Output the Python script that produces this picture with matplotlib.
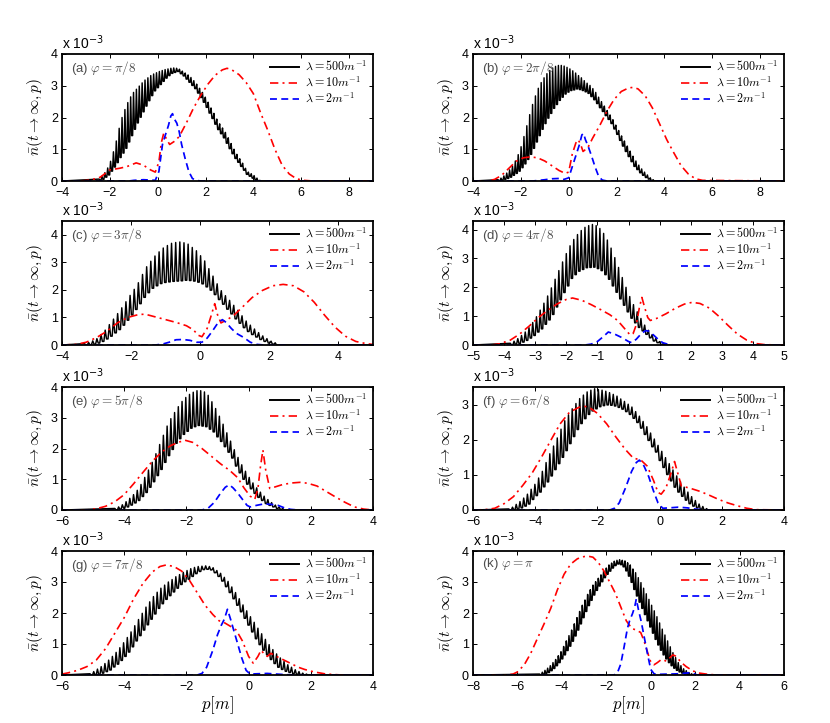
import numpy as np
import matplotlib
matplotlib.use('Agg')
import matplotlib.pyplot as plt

plt.rcParams['font.family'] = ['Liberation Sans', 'DejaVu Sans']
plt.rcParams['mathtext.fontset'] = 'cm'

# oscillation period (in p units) of the lambda = 500 m^-1 curve
T_osc = 0.12
series_labels = [r'$\lambda=500m^{-1}$', r'$\lambda=10m^{-1}$', r'$\lambda=2m^{-1}$']

# ---------------- panel (a) ----------------
a_label = r'(a) $\varphi=\pi/8$'
a_xlim = [-4, 9]; a_xticks = [-4, -2, 0, 2, 4, 6, 8]; a_ylim = [0, 4]; a_yticks = [0, 1, 2, 3, 4]
a_blk_p0 = -2.45
a_blk_top = [0.06, 0.15, 0.26, 0.41, 0.62, 0.92, 1.26, 1.66, 2.0, 2.25, 2.47, 2.65, 2.79, 2.89, 2.99, 3.09,
             3.18, 3.25, 3.32, 3.37, 3.41, 3.45, 3.48, 3.51, 3.53, 3.55, 3.56, 3.55, 3.52, 3.46, 3.40, 3.34,
             3.26, 3.16, 3.05, 2.92, 2.79, 2.64, 2.48, 2.30, 2.13, 1.95, 1.80, 1.67, 1.53, 1.36, 1.18, 1.0,
             0.84, 0.70, 0.56, 0.40, 0.28, 0.23, 0.17, 0.09, 0.02]
a_blk_bot = [0.03, 0.05, 0.12, 0.19, 0.31, 0.44, 0.58, 0.74, 0.88, 1.03, 1.23, 1.43, 1.63, 1.83, 2.01, 2.18,
             2.36, 2.53, 2.69, 2.84, 2.94, 3.04, 3.14, 3.24, 3.32, 3.39, 3.42, 3.45, 3.38, 3.31, 3.21, 3.11,
             3.01, 2.91, 2.77, 2.63, 2.48, 2.32, 2.14, 1.97, 1.79, 1.62, 1.49, 1.36, 1.19, 1.02, 0.86, 0.71,
             0.59, 0.46, 0.34, 0.21, 0.15, 0.09, 0.04, 0.0, 0.0]
a_red_p = [-4, -3.2, -2.8, -2.4, -2.0, -1.6, -1.3, -0.9, -0.6, -0.3, -0.1, 0.05, 0.15, 0.25, 0.35, 0.5, 0.7,
           0.9, 1.2, 1.5, 1.8, 2.1, 2.4, 2.7, 2.9, 3.1, 3.4, 3.7, 4.0, 4.3, 4.6, 4.9, 5.2, 5.5, 5.8, 6.1, 6.5, 9]
a_red_n = [0, 0.0, 0.03, 0.12, 0.35, 0.4, 0.45, 0.57, 0.5, 0.35, 0.28, 0.6, 1.2, 1.5, 1.35, 1.15, 1.25,
           1.4, 1.83, 2.3, 2.7, 3.05, 3.33, 3.5, 3.55, 3.5, 3.35, 3.1, 2.75, 2.15, 1.6, 1.0, 0.5, 0.22, 0.07, 0.02, 0.0, 0]
a_blue_p = [-4, -1.2, -1.0, -0.6, -0.3, -0.1, 0.05, 0.2, 0.3, 0.45, 0.55, 0.62, 0.7, 0.8, 0.9, 1.0, 1.15,
            1.3, 1.45, 1.6, 1.8, 9]
a_blue_n = [0, 0, 0.02, 0.04, 0.03, 0.02, 0.3, 1.15, 1.4, 1.75, 2.05, 2.12, 1.95, 1.82, 1.55, 1.15, 0.7,
            0.3, 0.08, 0.02, 0, 0]

# ---------------- panel (b) ----------------
b_label = r'(b) $\varphi=2\pi/8$'
b_xlim = [-4, 9]; b_xticks = [-4, -2, 0, 2, 4, 6, 8]; b_ylim = [0, 4]; b_yticks = [0, 1, 2, 3, 4]
b_blk_p0 = -2.95
b_blk_top = [0.04, 0.09, 0.16, 0.25, 0.35, 0.47, 0.63, 0.83, 1.08, 1.4, 1.74, 2.09, 2.41, 2.68, 2.92, 3.1,
             3.25, 3.38, 3.48, 3.56, 3.61, 3.64, 3.64, 3.62, 3.58, 3.53, 3.47, 3.4, 3.32, 3.25, 3.16, 3.08,
             3.01, 2.91, 2.79, 2.64, 2.5, 2.36, 2.22, 2.08, 1.93, 1.76, 1.59, 1.42, 1.26, 1.1, 0.94, 0.78,
             0.63, 0.5, 0.38, 0.28, 0.19, 0.1, 0.04]
b_blk_bot = [0.01, 0.02, 0.05, 0.08, 0.12, 0.18, 0.24, 0.31, 0.42, 0.54, 0.68, 0.84, 1.03, 1.23, 1.43, 1.63,
             1.81, 1.98, 2.13, 2.29, 2.41, 2.54, 2.64, 2.74, 2.8, 2.85, 2.87, 2.9, 2.88, 2.85, 2.81, 2.76,
             2.66, 2.56, 2.44, 2.31, 2.19, 2.06, 1.94, 1.81, 1.64, 1.47, 1.28, 1.1, 0.93, 0.77, 0.61, 0.46,
             0.36, 0.26, 0.18, 0.11, 0.06, 0.01, 0.0]
b_red_p = [-4, -3.4, -3.1, -2.8, -2.5, -2.2, -1.9, -1.6, -1.3, -1.0, -0.7, -0.4, -0.15, 0.0, 0.15, 0.3, 0.4,
           0.5, 0.6, 0.8, 1.0, 1.3, 1.6, 1.9, 2.2, 2.5, 2.7, 2.9, 3.2, 3.5, 3.8, 4.1, 4.4, 4.7, 5.0, 5.3, 5.6, 9]
b_red_n = [0, 0.0, 0.05, 0.18, 0.4, 0.62, 0.73, 0.76, 0.73, 0.63, 0.48, 0.33, 0.24, 0.28, 0.85, 1.2, 1.3,
           1.15, 0.93, 1.05, 1.35, 1.75, 2.2, 2.57, 2.82, 2.93, 2.95, 2.9, 2.68, 2.3, 1.8, 1.3, 0.88, 0.48,
           0.22, 0.07, 0.02, 0]
b_blue_p = [-4, -1.5, -1.0, -0.7, -0.4, -0.2, 0.0, 0.15, 0.3, 0.45, 0.55, 0.62, 0.7, 0.8, 0.95, 1.1, 1.25,
            1.4, 1.6, 9]
b_blue_n = [0, 0, 0.04, 0.07, 0.08, 0.05, 0.1, 0.45, 0.8, 1.15, 1.45, 1.5, 1.3, 1.12, 0.8, 0.45, 0.15,
            0.03, 0, 0]

# ---------------- panel (c) ----------------
c_label = r'(c) $\varphi=3\pi/8$'
c_xlim = [-4, 5]; c_xticks = [-4, -2, 0, 2, 4]; c_ylim = [0, 4.5]; c_yticks = [0, 1, 2, 3, 4]
c_blk_p0 = -3.35
c_blk_top = [0.05, 0.09, 0.15, 0.23, 0.38, 0.54, 0.74, 0.94, 1.14, 1.35, 1.57, 1.8, 2.02, 2.26, 2.56, 2.84,
             3.04, 3.23, 3.38, 3.52, 3.61, 3.69, 3.72, 3.74, 3.71, 3.66, 3.54, 3.42, 3.24, 3.05, 2.77, 2.5,
             2.22, 1.97, 1.79, 1.62, 1.44, 1.26, 1.06, 0.87, 0.72, 0.58, 0.45, 0.33, 0.23, 0.14, 0.08]
c_blk_bot = [0.0, 0.01, 0.03, 0.07, 0.13, 0.22, 0.32, 0.44, 0.56, 0.72, 0.9, 1.09, 1.29, 1.5, 1.73, 1.9,
             2.06, 2.15, 2.23, 2.27, 2.29, 2.31, 2.32, 2.33, 2.35, 2.34, 2.32, 2.28, 2.22, 2.11, 1.99, 1.83,
             1.65, 1.48, 1.3, 1.13, 0.95, 0.79, 0.63, 0.49, 0.38, 0.29, 0.2, 0.13, 0.07, 0.03, 0.0]
c_red_p = [-4, -3.6, -3.3, -3.0, -2.7, -2.4, -2.1, -1.8, -1.6, -1.3, -1.0, -0.7, -0.4, -0.2, -0.05, 0.05, 0.2,
           0.3, 0.42, 0.5, 0.6, 0.75, 0.95, 1.2, 1.5, 1.8, 2.1, 2.4, 2.7, 3.0, 3.3, 3.6, 3.9, 4.2, 4.5, 4.8, 5.0]
c_red_n = [0, 0.02, 0.1, 0.27, 0.5, 0.8, 1.0, 1.1, 1.12, 1.02, 0.92, 0.82, 0.7, 0.55, 0.35, 0.3, 0.6,
           1.0, 1.5, 1.1, 0.8, 0.9, 1.05, 1.35, 1.72, 1.98, 2.15, 2.2, 2.15, 1.93, 1.55, 1.08, 0.65, 0.32,
           0.13, 0.05, 0.02]
c_blue_p = [-4, -1.3, -1.1, -0.9, -0.7, -0.5, -0.3, -0.1, 0.05, 0.2, 0.35, 0.5, 0.64, 0.75, 0.9, 1.05, 1.25,
            1.45, 1.65, 1.85, 5]
c_blue_n = [0, 0, 0.03, 0.1, 0.19, 0.2, 0.17, 0.1, 0.1, 0.25, 0.5, 0.78, 0.92, 0.82, 0.6, 0.42, 0.28,
            0.1, 0.02, 0, 0]

# ---------------- panel (d) ----------------
d_label = r'(d) $\varphi=4\pi/8$'
d_xlim = [-5, 5]; d_xticks = [-5, -4, -3, -2, -1, 0, 1, 2, 3, 4, 5]; d_ylim = [0, 4.3]; d_yticks = [0, 1, 2, 3, 4]
d_blk_p0 = -3.8
d_blk_top = [0.06, 0.13, 0.22, 0.33, 0.45, 0.6, 0.78, 0.98, 1.21, 1.45, 1.7, 1.98, 2.28, 2.58, 2.88, 3.17,
             3.44, 3.66, 3.83, 3.97, 4.08, 4.14, 4.18, 4.14, 4.04, 3.87, 3.64, 3.36, 3.03, 2.69, 2.34, 2.0,
             1.68, 1.4, 1.15, 0.92, 0.69, 0.51, 0.36, 0.23, 0.12, 0.05]
d_blk_bot = [0.0, 0.03, 0.05, 0.1, 0.16, 0.24, 0.33, 0.45, 0.56, 0.72, 0.87, 1.06, 1.32, 1.57, 1.82, 2.05,
             2.31, 2.44, 2.56, 2.62, 2.68, 2.69, 2.7, 2.65, 2.58, 2.44, 2.28, 2.05, 1.83, 1.6, 1.38, 1.15,
             0.93, 0.77, 0.61, 0.49, 0.37, 0.25, 0.14, 0.08, 0.02, 0.0]
d_red_p = [-5, -4.4, -4.1, -3.8, -3.5, -3.2, -2.9, -2.6, -2.3, -2.0, -1.8, -1.5, -1.2, -0.9, -0.6, -0.35,
           -0.15, 0.05, 0.15, 0.25, 0.35, 0.43, 0.52, 0.62, 0.7, 0.9, 1.2, 1.5, 1.8, 2.05, 2.3, 2.6, 2.9, 3.2,
           3.5, 3.8, 4.1, 4.4, 5]
d_red_n = [0, 0.0, 0.05, 0.17, 0.38, 0.65, 0.95, 1.2, 1.42, 1.58, 1.63, 1.55, 1.4, 1.23, 1.05, 0.85,
           0.6, 0.35, 0.4, 0.7, 1.3, 1.65, 1.3, 0.95, 0.85, 0.92, 1.08, 1.27, 1.42, 1.48, 1.44, 1.28, 1.0, 0.68,
           0.38, 0.17, 0.05, 0.01, 0]
d_blue_p = [-5, -1.4, -1.2, -1.0, -0.8, -0.65, -0.45, -0.2, 0.0, 0.1, 0.25, 0.4, 0.55, 0.65, 0.8, 0.95,
            1.1, 1.25, 1.45, 5]
d_blue_n = [0, 0, 0.03, 0.12, 0.3, 0.45, 0.38, 0.25, 0.12, 0.08, 0.2, 0.38, 0.5, 0.48, 0.35, 0.2,
            0.08, 0.03, 0, 0]

# ---------------- panel (e) ----------------
e_label = r'(e) $\varphi=5\pi/8$'
e_xlim = [-6, 4]; e_xticks = [-6, -4, -2, 0, 2, 4]; e_ylim = [0, 4]; e_yticks = [0, 1, 2, 3, 4]
e_blk_p0 = -4.3
e_blk_top = [0.05, 0.1, 0.17, 0.27, 0.38, 0.5, 0.64, 0.83, 1.06, 1.3, 1.55, 1.83, 2.13, 2.43, 2.73, 2.97,
             3.17, 3.36, 3.53, 3.66, 3.76, 3.83, 3.88, 3.88, 3.84, 3.73, 3.52, 3.3, 3.05, 2.79, 2.51, 2.24,
             1.96, 1.71, 1.47, 1.26, 1.06, 0.88, 0.72, 0.58, 0.45, 0.34, 0.24, 0.16, 0.1, 0.05]
e_blk_bot = [0.0, 0.03, 0.06, 0.1, 0.16, 0.23, 0.31, 0.44, 0.57, 0.74, 0.92, 1.12, 1.32, 1.55, 1.77, 1.97,
             2.17, 2.32, 2.46, 2.56, 2.66, 2.71, 2.75, 2.73, 2.71, 2.63, 2.54, 2.38, 2.23, 2.06, 1.88, 1.69,
             1.43, 1.21, 1.0, 0.84, 0.69, 0.54, 0.41, 0.31, 0.21, 0.15, 0.1, 0.05, 0.02, 0.0]
e_red_p = [-6, -5.2, -4.9, -4.6, -4.3, -4.0, -3.7, -3.4, -3.1, -2.8, -2.5, -2.2, -2.05, -1.8, -1.5, -1.2,
           -0.9, -0.6, -0.35, -0.15, 0.05, 0.2, 0.3, 0.38, 0.46, 0.55, 0.68, 0.85, 1.1, 1.4, 1.65, 1.9, 2.2,
           2.5, 2.8, 3.1, 3.4, 3.7, 4.0]
e_red_n = [0, 0.0, 0.04, 0.12, 0.27, 0.5, 0.85, 1.22, 1.58, 1.88, 2.1, 2.22, 2.27, 2.2, 2.0, 1.75,
           1.5, 1.28, 1.05, 0.72, 0.45, 0.35, 0.7, 1.4, 1.95, 1.3, 0.7, 0.75, 0.83, 0.88, 0.9, 0.87, 0.78,
           0.6, 0.42, 0.25, 0.1, 0.03, 0]
e_blue_p = [-6, -1.5, -1.3, -1.1, -0.9, -0.75, -0.62, -0.5, -0.35, -0.2, -0.05, 0.05, 0.25, 0.5, 0.75,
            0.95, 1.15, 1.35, 1.6, 4]
e_blue_n = [0, 0, 0.06, 0.25, 0.55, 0.74, 0.82, 0.72, 0.55, 0.35, 0.15, 0.1, 0.15, 0.2, 0.18,
            0.15, 0.07, 0.02, 0, 0]

# ---------------- panel (f) ----------------
f_label = r'(f) $\varphi=6\pi/8$'
f_xlim = [-6, 4]; f_xticks = [-6, -4, -2, 0, 2, 4]; f_ylim = [0, 3.5]; f_yticks = [0, 1, 2, 3]
f_blk_p0 = -4.85
f_blk_top = [0.03, 0.08, 0.16, 0.24, 0.34, 0.45, 0.59, 0.73, 0.91, 1.1, 1.35, 1.6, 1.82, 2.05, 2.3, 2.54,
             2.71, 2.88, 3.03, 3.17, 3.27, 3.36, 3.41, 3.45, 3.43, 3.41, 3.38, 3.34, 3.29, 3.24, 3.16, 3.09,
             3.01, 2.93, 2.8, 2.67, 2.52, 2.37, 2.19, 2.02, 1.84, 1.67, 1.49, 1.32, 1.14, 0.97, 0.81, 0.65,
             0.51, 0.38, 0.27, 0.17, 0.1, 0.04]
f_blk_bot = [0.0, 0.01, 0.02, 0.06, 0.11, 0.17, 0.3, 0.41, 0.51, 0.66, 0.8, 0.97, 1.15, 1.32, 1.5, 1.69,
             1.89, 2.09, 2.29, 2.46, 2.6, 2.72, 2.82, 2.88, 2.94, 2.97, 2.99, 2.98, 2.96, 2.92, 2.87, 2.8,
             2.72, 2.61, 2.49, 2.33, 2.15, 1.98, 1.8, 1.65, 1.41, 1.21, 1.01, 0.83, 0.65, 0.51, 0.39, 0.28,
             0.18, 0.11, 0.06, 0.02, 0.0, 0.0]
f_red_p = [-6, -5.6, -5.3, -5.0, -4.7, -4.4, -4.1, -3.8, -3.5, -3.2, -2.9, -2.6, -2.4, -2.2, -2.0, -1.7,
           -1.4, -1.1, -0.85, -0.6, -0.4, -0.2, -0.05, 0.05, 0.2, 0.35, 0.48, 0.6, 0.7, 0.85, 1.05, 1.3, 1.6,
           1.9, 2.2, 2.5, 2.8, 3.1, 4]
f_red_n = [0, 0.01, 0.05, 0.18, 0.38, 0.7, 1.05, 1.5, 1.98, 2.45, 2.78, 2.92, 2.95, 2.88, 2.75, 2.45,
           2.07, 1.72, 1.48, 1.42, 1.25, 0.85, 0.5, 0.45, 0.62, 1.0, 1.38, 1.0, 0.68, 0.65, 0.6, 0.53, 0.42,
           0.3, 0.2, 0.12, 0.05, 0.01, 0]
f_blue_p = [-6, -1.6, -1.45, -1.3, -1.1, -0.9, -0.75, -0.65, -0.5, -0.35, -0.2, -0.05, 0.1, 0.3, 0.6, 0.9,
            1.2, 1.5, 4]
f_blue_n = [0, 0, 0.05, 0.2, 0.62, 1.1, 1.35, 1.42, 1.25, 0.95, 0.55, 0.2, 0.05, 0.06, 0.08, 0.06,
            0.02, 0, 0]

# ---------------- panel (g) ----------------
g_label = r'(g) $\varphi=7\pi/8$'
g_xlim = [-6, 4]; g_xticks = [-6, -4, -2, 0, 2, 4]; g_ylim = [0, 4]; g_yticks = [0, 1, 2, 3, 4]
g_blk_p0 = -5.1
g_blk_top = [0.04, 0.11, 0.19, 0.27, 0.37, 0.48, 0.6, 0.73, 0.88, 1.04, 1.21, 1.39, 1.59, 1.79, 1.99, 2.19,
             2.36, 2.53, 2.67, 2.8, 2.9, 3.0, 3.08, 3.17, 3.24, 3.31, 3.37, 3.43, 3.47, 3.5, 3.51, 3.52,
             3.5, 3.46, 3.37, 3.28, 3.15, 3.02, 2.84, 2.66, 2.46, 2.26, 2.07, 1.88, 1.7, 1.51, 1.33, 1.15,
             0.98, 0.82, 0.68, 0.55, 0.44, 0.33, 0.25, 0.17, 0.11, 0.06, 0.03]
g_blk_bot = [0.0, 0.01, 0.02, 0.06, 0.11, 0.16, 0.26, 0.35, 0.47, 0.6, 0.74, 0.91, 1.1, 1.27, 1.45, 1.62,
             1.8, 1.97, 2.15, 2.3, 2.44, 2.56, 2.68, 2.8, 2.92, 3.01, 3.09, 3.18, 3.27, 3.34, 3.4, 3.41,
             3.39, 3.3, 3.18, 3.03, 2.85, 2.66, 2.46, 2.25, 2.04, 1.83, 1.61, 1.39, 1.17, 0.98, 0.8, 0.65,
             0.5, 0.37, 0.25, 0.18, 0.12, 0.08, 0.04, 0.02, 0.0, 0.0, 0.0]
g_red_p = [-6, -5.8, -5.5, -5.2, -4.9, -4.6, -4.3, -4.0, -3.7, -3.4, -3.1, -2.85, -2.65, -2.4, -2.15, -1.9,
           -1.65, -1.4, -1.15, -0.95, -0.8, -0.6, -0.4, -0.2, 0.0, 0.15, 0.3, 0.4, 0.5, 0.6, 0.72, 0.85, 1.0,
           1.2, 1.4, 1.6, 1.8, 2.1, 2.5, 3.0, 4]
g_red_n = [0.03, 0.07, 0.15, 0.27, 0.48, 0.85, 1.35, 1.85, 2.45, 2.95, 3.32, 3.5, 3.55, 3.5, 3.35, 3.05,
           2.65, 2.25, 1.95, 1.75, 1.7, 1.58, 1.45, 1.1, 0.6, 0.38, 0.6, 0.8, 0.68, 0.6, 0.7, 0.62, 0.55,
           0.45, 0.35, 0.25, 0.18, 0.1, 0.03, 0.0, 0]
g_blue_p = [-6, -1.65, -1.5, -1.35, -1.15, -1.0, -0.88, -0.78, -0.68, -0.58, -0.48, -0.35, -0.22, -0.08,
            0.05, 0.3, 0.6, 0.9, 1.2, 1.5, 4]
g_blue_n = [0, 0, 0.05, 0.25, 0.8, 1.3, 1.6, 1.8, 2.12, 1.8, 1.45, 1.0, 0.55, 0.15,
            0.03, 0.04, 0.05, 0.03, 0.01, 0, 0]

# ---------------- panel (k) ----------------
k_label = r'(k) $\varphi=\pi$'
k_xlim = [-8, 6]; k_xticks = [-8, -6, -4, -2, 0, 2, 4, 6]; k_ylim = [0, 4]; k_yticks = [0, 1, 2, 3, 4]
k_blk_p0 = -5.0
k_blk_top = [0.03, 0.09, 0.15, 0.22, 0.3, 0.4, 0.5, 0.62, 0.75, 0.92, 1.1, 1.27, 1.45, 1.65, 1.85, 2.05,
             2.25, 2.42, 2.6, 2.75, 2.9, 3.01, 3.12, 3.23, 3.35, 3.45, 3.55, 3.61, 3.67, 3.7, 3.72, 3.7,
             3.68, 3.62, 3.55, 3.42, 3.3, 3.14, 2.98, 2.8, 2.62, 2.44, 2.25, 2.07, 1.88, 1.68, 1.48, 1.29,
             1.1, 0.91, 0.72, 0.56, 0.4, 0.3, 0.2, 0.14, 0.08, 0.04]
k_blk_bot = [0.0, 0.01, 0.05, 0.08, 0.14, 0.21, 0.3, 0.4, 0.52, 0.65, 0.79, 0.93, 1.09, 1.26, 1.45, 1.65,
             1.85, 2.05, 2.24, 2.41, 2.58, 2.73, 2.87, 3.01, 3.14, 3.25, 3.35, 3.45, 3.53, 3.58, 3.56, 3.49,
             3.36, 3.19, 2.99, 2.76, 2.55, 2.35, 2.15, 1.95, 1.75, 1.55, 1.35, 1.15, 0.97, 0.8, 0.65, 0.52,
             0.4, 0.3, 0.22, 0.15, 0.1, 0.06, 0.03, 0.01, 0.0, 0.0]
k_red_p = [-8, -6.5, -6.2, -6.0, -5.7, -5.4, -5.1, -4.8, -4.5, -4.2, -3.9, -3.6, -3.3, -3.0, -2.8, -2.6,
           -2.35, -2.1, -1.85, -1.6, -1.35, -1.1, -0.85, -0.65, -0.45, -0.3, -0.15, 0.0, 0.15, 0.3, 0.48,
           0.7, 0.85, 1.0, 1.15, 1.35, 1.6, 1.9, 2.2, 2.6, 3.0, 6]
k_red_n = [0, 0.0, 0.03, 0.1, 0.32, 0.7, 1.18, 1.65, 2.15, 2.75, 3.25, 3.58, 3.75, 3.82, 3.83, 3.8,
           3.62, 3.35, 3.0, 2.65, 2.2, 1.75, 1.5, 1.45, 1.37, 1.1, 0.75, 0.42, 0.33, 0.4, 0.5,
           0.45, 0.55, 0.65, 0.6, 0.42, 0.27, 0.13, 0.06, 0.02, 0.0, 0]
k_blue_p = [-8, -1.65, -1.5, -1.35, -1.2, -1.05, -0.95, -0.82, -0.72, -0.65, -0.55, -0.42, -0.3, -0.15,
            0.0, 0.15, 0.3, 0.8, 1.3, 1.7, 1.9, 2.1, 6]
k_blue_n = [0, 0, 0.07, 0.35, 0.9, 1.5, 1.75, 1.98, 2.2, 2.45, 2.1, 1.7, 1.25, 0.7,
            0.18, 0.04, 0.02, 0.03, 0.04, 0.07, 0.05, 0.0, 0]

panels = [
    (a_label, a_xlim, a_xticks, a_ylim, a_yticks, a_blk_p0, a_blk_top, a_blk_bot, a_red_p, a_red_n, a_blue_p, a_blue_n),
    (b_label, b_xlim, b_xticks, b_ylim, b_yticks, b_blk_p0, b_blk_top, b_blk_bot, b_red_p, b_red_n, b_blue_p, b_blue_n),
    (c_label, c_xlim, c_xticks, c_ylim, c_yticks, c_blk_p0, c_blk_top, c_blk_bot, c_red_p, c_red_n, c_blue_p, c_blue_n),
    (d_label, d_xlim, d_xticks, d_ylim, d_yticks, d_blk_p0, d_blk_top, d_blk_bot, d_red_p, d_red_n, d_blue_p, d_blue_n),
    (e_label, e_xlim, e_xticks, e_ylim, e_yticks, e_blk_p0, e_blk_top, e_blk_bot, e_red_p, e_red_n, e_blue_p, e_blue_n),
    (f_label, f_xlim, f_xticks, f_ylim, f_yticks, f_blk_p0, f_blk_top, f_blk_bot, f_red_p, f_red_n, f_blue_p, f_blue_n),
    (g_label, g_xlim, g_xticks, g_ylim, g_yticks, g_blk_p0, g_blk_top, g_blk_bot, g_red_p, g_red_n, g_blue_p, g_blue_n),
    (k_label, k_xlim, k_xticks, k_ylim, k_yticks, k_blk_p0, k_blk_top, k_blk_bot, k_red_p, k_red_n, k_blue_p, k_blue_n),
]

fig = plt.figure(figsize=(8.3, 7.23), dpi=100)
W, H = 830.0, 723.0
col_left = [62 / W, 473 / W]
ax_w = 311 / W
row_px = [(54, 181), (221, 345), (387, 510), (551, 675)]

red_style = (0, (5, 2.5, 1.2, 2.5))
blue_style = (0, (4, 2.5))

for idx, (lab, xl, xt, yl, yt, p0, top, bot, rp, rn, bp, bn) in enumerate(panels):
    r, c = idx // 2, idx % 2
    t_px, b_px = row_px[r]
    ax = fig.add_axes([col_left[c], 1 - b_px / H, ax_w, (b_px - t_px) / H])

    # black curve: sharp peaks (top values) and rounded troughs (bottom values)
    n = min(len(top), len(bot))
    pt = p0 + T_osc * np.arange(n)
    tv = np.array(top[:n])
    bv = np.array(bot[:n])
    px = np.empty(3 * n)
    py = np.empty(3 * n)
    px[0::3] = pt
    px[1::3] = pt + 0.32 * T_osc
    px[2::3] = pt + 0.68 * T_osc
    py[0::3] = tv
    py[1::3] = bv
    py[2::3] = bv
    px = np.concatenate([[xl[0]], px, [xl[1]]])
    py = np.concatenate([[0.0], py, [0.0]])

    ax.plot(px, py, color='black', lw=1.05, label=series_labels[0])
    ax.plot(rp, rn, color=(1, 0, 0), lw=1.2, linestyle=red_style, label=series_labels[1])
    ax.plot(bp, bn, color=(0, 0, 1), lw=1.25, linestyle=blue_style, label=series_labels[2])

    ax.set_xlim(xl)
    ax.set_ylim(yl)
    ax.set_xticks(xt)
    ax.set_yticks(yt)
    ax.tick_params(direction='in', top=True, right=True, length=3, width=0.7, labelsize=9)
    ax.tick_params(axis='x', pad=4)
    ax.tick_params(axis='y', pad=3)
    for s in ax.spines.values():
        s.set_linewidth(1.3)

    ax.set_ylabel(r'$\bar{n}(t\rightarrow\infty,p)$', fontsize=11, labelpad=4)
    if r == 3:
        ax.set_xlabel(r'$p[m]$', fontsize=12, labelpad=1)

    ax.text(0.03, 0.962, lab, transform=ax.transAxes, ha='left', va='top', fontsize=9.5, color='0.3')
    ax.text(0.0, 1.015, r'x 10$^{-3}$', transform=ax.transAxes, ha='left', va='bottom',
            fontsize=10, math_fontfamily='dejavusans')

    leg = ax.legend(loc='upper right', frameon=False, fontsize=8.7, handlelength=2.4, handletextpad=0.45,
                    labelspacing=0.15, borderaxespad=0.25, borderpad=0.25)
    leg.get_lines()[0].set_linewidth(1.4)

fig.savefig('out.png', dpi=100)
